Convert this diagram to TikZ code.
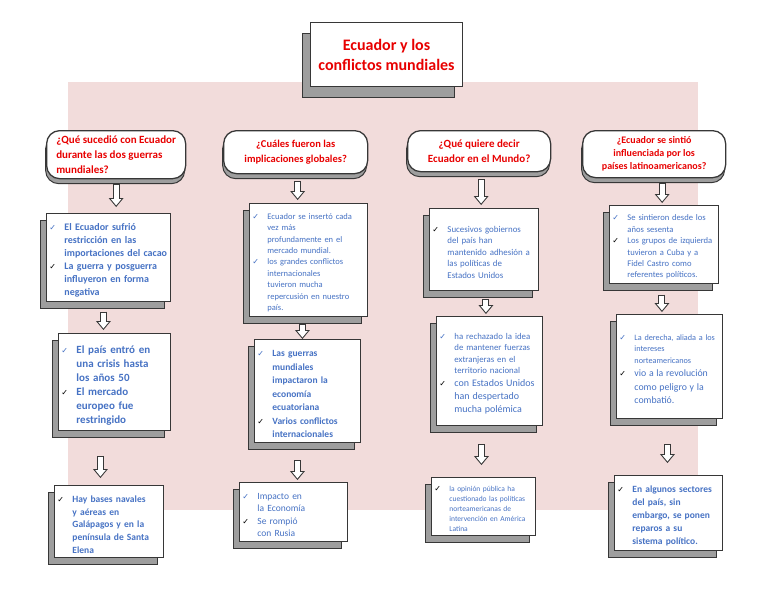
\documentclass[tikz,border=0pt]{standalone}
\usepackage{fontspec}
\setmainfont{Carlito}
\newfontfamily\symfont{DejaVu Sans}
\usetikzlibrary{arrows.meta,shadows}

\definecolor{bgpink}{RGB}{242,220,219}
\definecolor{qred}{RGB}{232,0,0}
\definecolor{txtblue}{RGB}{70,114,196}
\definecolor{edgegray}{RGB}{55,55,55}

% one item of a box: check mark, then the text hanging beside it
\newcommand\chk[2]{\par\noindent\makebox[15pt][l]{\textcolor{#1}{\symfont\fontsize{8}{8}\selectfont ✓}}%
  \parbox[t]{\dimexpr\hsize-15pt\relax}{\raggedright #2\par\xdef\chkdepth{\the\prevdepth}}%
  \par\prevdepth=\chkdepth\relax}

\tikzset{
  slab/.style={draw=edgegray, line width=0.9pt, fill=white, anchor=north west,
    align=left, inner xsep=3pt, inner ysep=4pt, text=txtblue,
    general shadow={shadow xshift=-6pt, shadow yshift=-7pt, draw=edgegray,
      line width=0.9pt, fill=black!38}},
  bubble/.style={draw=edgegray, line width=1.3pt, fill=white, anchor=north west,
    rounded corners=13pt, align=center, inner sep=3pt, text=qred,
    font=\bfseries\fontsize{11}{15}\selectfont,
    general shadow={shadow xshift=-1pt, shadow yshift=-5pt, draw=edgegray,
      line width=1pt, fill=black!38}},
  titlebox/.style={draw=edgegray, line width=1pt, fill=white, anchor=north west,
    align=center, text=qred, font=\bfseries\fontsize{16}{20}\selectfont,
    general shadow={shadow xshift=-8pt, shadow yshift=-11pt, draw=edgegray,
      line width=1pt, fill=black!38}},
  flowarrow/.style 2 args={draw=edgegray, line width=7pt,
    -{Triangle[length=9pt,width=15pt,line width=0pt]},
    shorten <=#1, shorten >=#2,
    postaction={draw=white, line width=5pt,
      -{Triangle[length=6.4pt,width=10.6pt,line width=0pt]},
      shorten <=#1+1pt, shorten >=#2+1.6pt}}
}

\begin{document}
\begin{tikzpicture}[x=1pt,y=-1pt]
  \useasboundingbox (0,0) rectangle (768,594);

  % pink backdrop
  \fill[bgpink] (68,82) rectangle (698,510);

  % title
  \node[titlebox, minimum width=152pt, minimum height=64pt] (title) at (310,22)
    {Ecuador y los\\conflictos mundiales};

  % questions
  \node[bubble, align=left, minimum width=139pt, minimum height=48pt] (h1) at (46,130)
    {¿Qué sucedió con Ecuador\\durante las dos guerras\\mundiales?};
  \node[bubble, font=\bfseries\fontsize{10.5}{15}\selectfont,
    minimum width=144pt, minimum height=43pt] (h2) at (223,130)
    {¿Cuáles fueron las\\implicaciones globales?};
  \node[bubble, minimum width=143pt, minimum height=41pt] (h3) at (407,130)
    {¿Qué quiere decir\\Ecuador en el Mundo?};
  \node[bubble, font=\bfseries\fontsize{10}{13}\selectfont,
    minimum width=143pt, minimum height=47pt] (h4) at (582,130)
    {¿Ecuador se sintió\\influenciada por los\\países latinoamericanos?};

  % column 1
  \node[slab, text width=118pt, minimum height=85pt, font=\bfseries\fontsize{10}{13}\selectfont]
    (b11) at (46,213) {\chk{txtblue}{El Ecuador sufrió\\restricción en las\\importaciones del cacao}%
    \chk{black}{La guerra y posguerra\\influyeron en forma\\negativa}};
  \node[slab, text width=106pt, minimum height=97pt, font=\bfseries\fontsize{11}{14}\selectfont]
    (b12) at (58,333) {\chk{txtblue}{El país entró en\\una crisis hasta\\los años 50}%
    \chk{black}{El mercado\\europeo fue\\restringido}};
  \node[slab, text width=103pt, minimum height=70pt, font=\bfseries\fontsize{9.5}{12.8}\selectfont]
    (b13) at (54,485) {\chk{black}{Hay bases navales\\y aéreas en\\Galápagos y en la\\península de Santa\\Elena}};

  % column 2
  \node[slab, text width=112pt, minimum height=113pt, font=\fontsize{8.5}{11.4}\selectfont]
    (b21) at (249,203) {\chk{txtblue}{Ecuador se insertó cada\\vez más\\profundamente en el\\mercado mundial.}%
    \chk{txtblue}{los grandes conflictos\\internacionales\\tuvieron mucha\\repercusión en nuestro\\país.}};
  \node[slab, text width=100pt, minimum height=101pt, font=\bfseries\fontsize{9.5}{13.5}\selectfont]
    (b22) at (254,339) {\chk{txtblue}{Las guerras\\mundiales\\impactaron la\\economía\\ecuatoriana}%
    \chk{black}{Varios conflictos\\internacionales}};
  \node[slab, text width=102pt, minimum height=59pt, font=\fontsize{9.5}{12.5}\selectfont]
    (b23) at (239,482) {\chk{txtblue}{Impacto en\\la Economía}\chk{black}{Se rompió\\con Rusia}};

  % column 3
  \node[slab, text width=103pt, minimum height=82pt, font=\fontsize{8.9}{11.5}\selectfont]
    (b31) at (429,208) {\chk{black}{Sucesivos gobiernos\\del país han\\mantenido adhesión a\\las políticas de\\Estados Unidos}};
  \node[slab, text width=100pt, minimum height=109pt, font=\fontsize{8.8}{11.5}\selectfont]
    (b32) at (436,316) {\chk{txtblue}{ha rechazado la idea\\de mantener fuerzas\\extranjeras en el\\territorio nacional}%
    \fontsize{10}{13}\selectfont\chk{black}{con Estados Unidos\\han despertado\\mucha polémica}};
  \node[slab, text width=98pt, minimum height=56pt, font=\fontsize{7.5}{10}\selectfont]
    (b33) at (431,477) {\chk{black}{la opinión pública ha\\cuestionado las políticas\\norteamericanas de\\intervención en América\\Latina}};

  % column 4
  \node[slab, text width=103pt, minimum height=76pt, font=\fontsize{8.6}{11.4}\selectfont]
    (b41) at (609,205) {\chk{txtblue}{Se sintieron desde los\\años sesenta}%
    \chk{black}{Los grupos de izquierda\\tuvieron a Cuba y a\\Fidel Castro como\\referentes políticos.}};
  \node[slab, text width=100pt, minimum height=104pt, font=\fontsize{8.2}{11.5}\selectfont]
    (b42) at (616,314) {\chk{txtblue}{La derecha, aliada a los\\intereses\\norteamericanos}%
    \fontsize{9.8}{13.5}\selectfont\chk{black}{vio a la revolución\\como peligro y la\\combatió.}};
  \node[slab, text width=102pt, minimum height=73pt, font=\bfseries\fontsize{9.5}{13}\selectfont]
    (b43) at (614,475) {\chk{black}{En algunos sectores\\del país, sin\\embargo, se ponen\\reparos a su\\sistema político.}};

  % arrows down each column
  \draw[flowarrow={5pt}{6pt}] (h1.south) -- (h1.south |- b11.north);
  \draw[flowarrow={10pt}{3pt}] ([xshift=-5pt]b11.south) -- ([xshift=-5pt]b11.south |- b12.north);
  \draw[flowarrow={25pt}{7pt}] ([xshift=-14pt]b12.south) -- ([xshift=-14pt]b12.south |- b13.north);

  \draw[flowarrow={7pt}{3pt}] ([xshift=2pt]h2.south) -- ([xshift=2pt]h2.south |- b21.north);
  \draw[flowarrow={7pt}{0pt}] ([xshift=-6pt]b21.south) -- ([xshift=-6pt]b21.south |- b22.north);
  \draw[flowarrow={18pt}{2pt}] ([xshift=-10pt]b22.south) -- ([xshift=-10pt]b22.south |- b23.north);

  \draw[flowarrow={7pt}{3pt}] ([xshift=2pt]h3.south) -- ([xshift=2pt]h3.south |- b31.north);
  \draw[flowarrow={8pt}{2pt}] ([xshift=2pt]b31.south) -- ([xshift=2pt]b31.south |- b32.north);
  \draw[flowarrow={18pt}{12pt}] ([xshift=-8pt]b32.south) -- ([xshift=-8pt]b32.south |- b33.north);

  \draw[flowarrow={5pt}{2pt}] ([xshift=8pt]h4.south) -- ([xshift=8pt]h4.south |- b41.north);
  \draw[flowarrow={11pt}{2pt}] ([xshift=-2pt]b41.south) -- ([xshift=-2pt]b41.south |- b42.north);
  \draw[flowarrow={25pt}{12pt}] ([xshift=-2pt]b42.south) -- ([xshift=-2pt]b42.south |- b43.north);
\end{tikzpicture}
\end{document}
